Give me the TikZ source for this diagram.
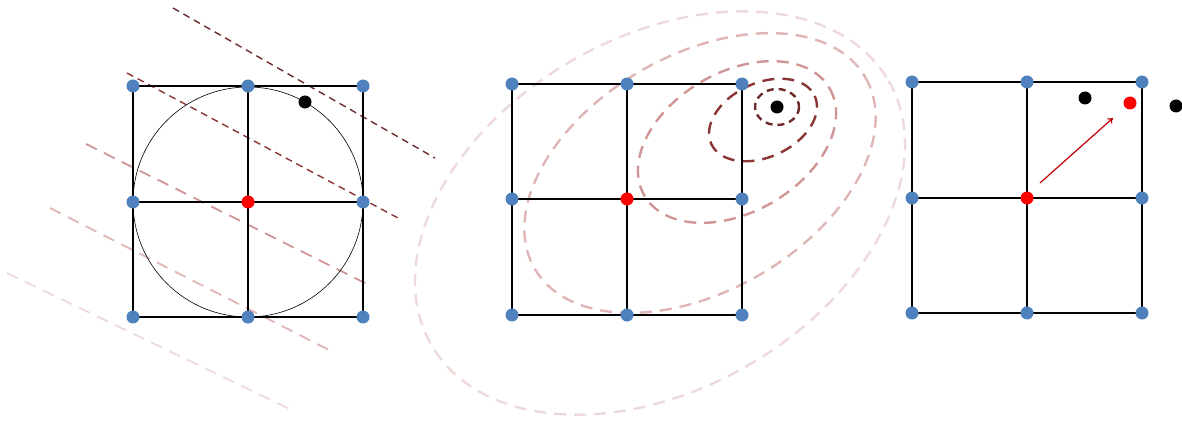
\documentclass[tikz,border=0pt]{standalone}
\usepackage{tikz}
\usepackage{xcolor}
\usetikzlibrary{arrows.meta}

\definecolor{gridblue}{HTML}{4F81BD}
\definecolor{lvlA}{HTML}{6E2B2B}
\definecolor{lvlB}{HTML}{8B3535}
\definecolor{lvlC}{HTML}{D09595}
\definecolor{lvlD}{HTML}{E0B5B5}
\definecolor{lvlE}{HTML}{EEDADA}
\definecolor{steparrow}{HTML}{C00000}

\tikzset{
  gridline/.style={line width=2pt},
  gdot/.style={circle,fill=#1,inner sep=0pt,minimum size=13pt},
  thinlevel/.style={#1,line width=1.4pt,dash pattern=on 7pt off 5pt},
  level/.style={#1,line width=2.4pt,dash pattern=on 12pt off 8pt},
}

\begin{document}
\begin{tikzpicture}[x=1pt,y=-1pt]
  \useasboundingbox (0,0) rectangle (1182,422);

  % left panel: level lines of a linear model
  \coordinate (l1a) at (173,8);   \coordinate (l1b) at (435,158);
  \coordinate (l2a) at (127,73);  \coordinate (l2b) at (398,218);
  \coordinate (l3a) at (86,144);  \coordinate (l3b) at (369,285);
  \coordinate (l4a) at (50,208);  \coordinate (l4b) at (333,352);
  \coordinate (l5a) at (7,273);   \coordinate (l5b) at (294,411);
  \draw[level=lvlE,line width=1.8pt] (l5a)--(l5b);
  \draw[level=lvlD,line width=1.8pt] (l4a)--(l4b);
  \draw[level=lvlC,line width=1.8pt] (l3a)--(l3b);
  \draw[thinlevel=lvlB] (l2a)--(l2b);
  \draw[thinlevel=lvlA] (l1a)--(l1b);

  \foreach \i/\x in {0/133,1/248,2/363}
    \foreach \j/\y in {0/86,1/202,2/317}
      \coordinate (a\i\j) at (\x,\y);
  \draw[line width=0.6pt] (a11) circle [radius=115];
  \draw[gridline] (a00) rectangle (a22);
  \draw[gridline] (a10)--(a12);
  \draw[gridline] (a01)--(a21);
  \foreach \n in {00,10,20,01,21,02,12,22}
    \node[gdot=gridblue] (ad\n) at (a\n) {};
  \node[gdot=red] (ac) at (a11) {};
  \node[gdot=black] (astar) at (305,102) {};

  % middle panel: level sets of a quadratic model
  \coordinate (bmin) at (777,107);
  \draw[level=lvlE] (660,213) circle [x radius=264, y radius=176, rotate=30];
  \draw[level=lvlD] (700,173) circle [x radius=191, y radius=118, rotate=30];
  \draw[level=lvlC] (737,142) circle [x radius=107, y radius=70, rotate=30];
  \draw[level=lvlB] (763,120) circle [x radius=57, y radius=37, rotate=25];
  \draw[level=lvlA,dash pattern=on 7pt off 5pt] (bmin) circle [x radius=22, y radius=18];

  \foreach \i/\x in {0/512,1/627,2/742}
    \foreach \j/\y in {0/84,1/199,2/315}
      \coordinate (b\i\j) at (\x,\y);
  \draw[gridline] (b00) rectangle (b22);
  \draw[gridline] (b10)--(b12);
  \draw[gridline] (b01)--(b21);
  \foreach \n in {00,10,20,01,21,02,12,22}
    \node[gdot=gridblue] (bd\n) at (b\n) {};
  \node[gdot=red] (bc) at (b11) {};
  \node[gdot=black] (bstar) at (bmin) {};

  % right panel: step towards the model minimum
  \foreach \i/\x in {0/912,1/1027,2/1142}
    \foreach \j/\y in {0/82,1/198,2/313}
      \coordinate (c\i\j) at (\x,\y);
  \draw[gridline] (c00) rectangle (c22);
  \draw[gridline] (c10)--(c12);
  \draw[gridline] (c01)--(c21);
  \foreach \n in {00,10,20,01,21,02,12,22}
    \node[gdot=gridblue] (cd\n) at (c\n) {};
  \node[gdot=red] (cc) at (c11) {};
  \node[gdot=black] (cstar) at (1085,98) {};
  \node[gdot=red] (cnew) at (1130,103) {};
  \node[gdot=black] (cfar) at (1176,106) {};
  \coordinate (s0) at (1040,183);
  \coordinate (s1) at (1113,118);
  \draw[steparrow,line width=1.2pt,-{To[length=5pt,width=7pt]}] (s0)--(s1);
\end{tikzpicture}
\end{document}
